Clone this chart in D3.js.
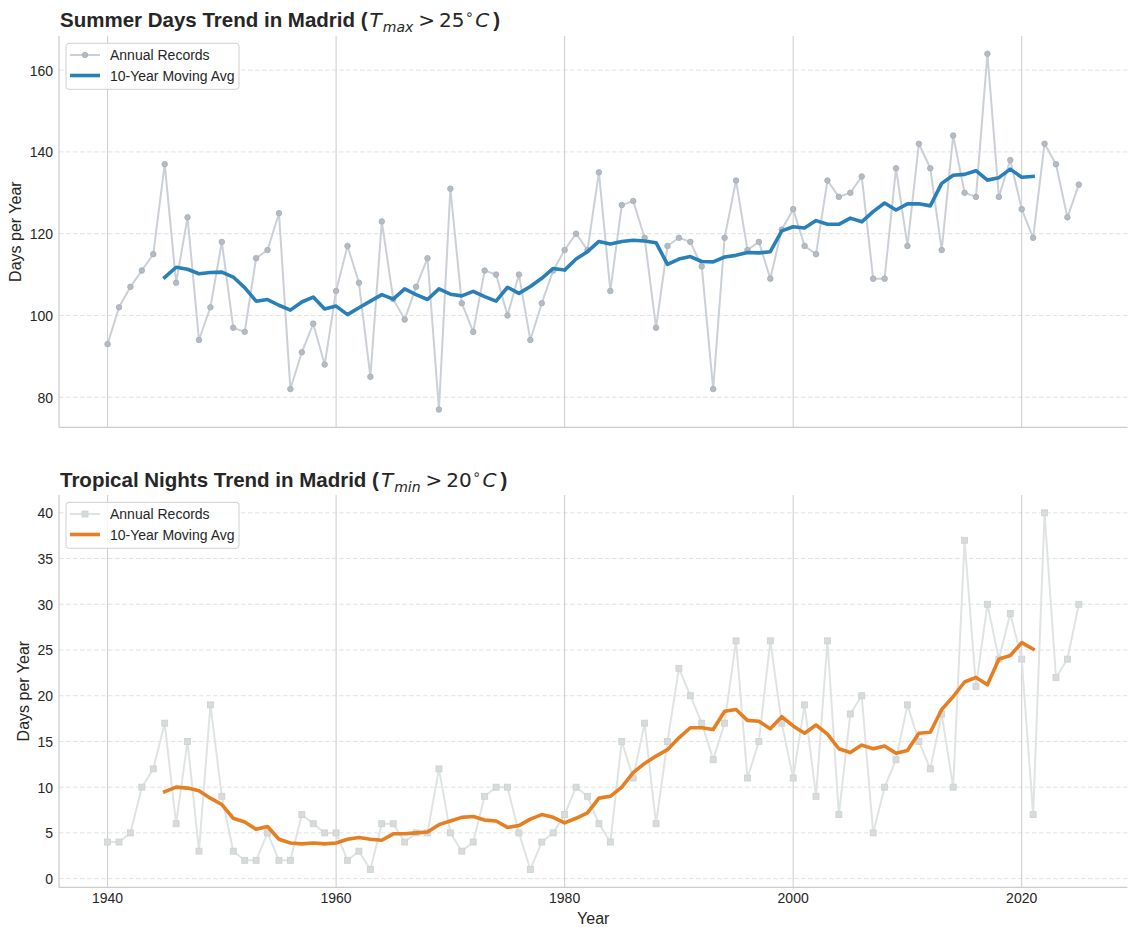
<!DOCTYPE html>
<html>
<head>
<meta charset="utf-8">
<script src="https://cdn.jsdelivr.net/npm/d3@7"></script>
<style>
  body { margin: 0; background: #fff; }
  text { font-family: "Liberation Sans", Arial, sans-serif; fill: #262626; }
</style>
</head>
<body>
<svg id="chart"></svg>
<script>
"use strict";

// =================== DATASET ===================
const years = d3.range(1940, 2026);

const summerDays = [
  93, 102, 107, 111, 115, 137, 108, 124, 94, 102,
  118, 97, 96, 114, 116, 125, 82, 91, 98, 88,
  106, 117, 108, 85, 123, 104, 99, 107, 114, 77,
  131, 103, 96, 111, 110, 100, 110, 94, 103, 111,
  116, 120, 116, 135, 106, 127, 128, 119, 97, 117,
  119, 118, 112, 82, 119, 133, 116, 118, 109, 121,
  126, 117, 115, 133, 129, 130, 134, 109, 109, 136,
  117, 142, 136, 116, 144, 130, 129, 164, 129, 138,
  126, 119, 142, 137, 124, 132
];

const tropicalNights = [
  4, 4, 5, 10, 12, 17, 6, 15, 3, 19,
  9, 3, 2, 2, 5, 2, 2, 7, 6, 5,
  5, 2, 3, 1, 6, 6, 4, 5, 5, 12,
  5, 3, 4, 9, 10, 10, 5, 1, 4, 5,
  7, 10, 9, 6, 4, 15, 11, 17, 6, 15,
  23, 20, 17, 13, 17, 26, 11, 15, 26, 17,
  11, 19, 9, 26, 7, 18, 20, 5, 10, 13,
  19, 15, 12, 18, 10, 37, 21, 30, 24, 29,
  24, 7, 40, 22, 24, 30
];

// moving average values, 1945 - 2021
const avgYears = d3.range(1945, 2022);

const summerAvg = [
  109.3, 111.8, 111.3, 110.2, 110.5, 110.6, 109.4, 106.8, 103.5, 103.9,
  102.5, 101.3, 103.3, 104.5, 101.6, 102.3, 100.2, 101.9, 103.5, 105.1,
  104.0, 106.5, 105.1, 103.9, 106.5, 105.2, 104.8, 105.9, 104.6, 103.5,
  106.9, 105.4, 107.1, 109.1, 111.5, 111.1, 113.8, 115.6, 118.1, 117.5,
  118.1, 118.4, 118.2, 117.8, 112.5, 113.8, 114.4, 113.2, 113.1, 114.3,
  114.7, 115.4, 115.3, 115.6, 120.7, 121.7, 121.4, 123.2, 122.3, 122.3,
  123.8, 122.9, 125.4, 127.5, 125.8, 127.3, 127.3, 126.8, 132.3, 134.3,
  134.5, 135.4, 133.1, 133.7, 135.8, 133.8, 134.0
];

const tropicalAvg = [
  9.5, 10.0, 9.9, 9.6, 8.8, 8.1, 6.6, 6.2, 5.4, 5.7,
  4.3, 3.9, 3.8, 3.9, 3.8, 3.9, 4.3, 4.5, 4.3, 4.2,
  4.9, 4.9, 5.0, 5.1, 5.9, 6.3, 6.7, 6.8, 6.4, 6.3,
  5.6, 5.8, 6.5, 7.0, 6.7, 6.1, 6.6, 7.2, 8.8, 9.0,
  10.0, 11.6, 12.6, 13.4, 14.1, 15.4, 16.5, 16.5, 16.3, 18.3,
  18.5, 17.3, 17.2, 16.4, 17.7, 16.7, 15.9, 16.8, 15.8, 14.2,
  13.8, 14.6, 14.2, 14.5, 13.7, 14.0, 15.9, 16.0, 18.5, 19.9,
  21.5, 22.0, 21.2, 24.0, 24.4, 25.8, 25.1
];

const xTicks = [1940, 1960, 1980, 2000, 2020];
const summerTicks = [80, 100, 120, 140, 160];
const tropicalTicks = [0, 5, 10, 15, 20, 25, 30, 35, 40];
const legendLabels = ["Annual Records", "10-Year Moving Avg"];

// =================== CHART SETUP ===================
const svgWidth = 1136;
const svgHeight = 936;

const svg = d3.select("#chart")
  .attr("width", svgWidth)
  .attr("height", svgHeight);

const xScale = d3.scaleLinear().domain([1935.75, 2029.25]).range([59, 1127.4]);

const panels = [
  {
    top: 36, bottom: 427.3,
    domain: [72.65, 168.35],
    ticks: summerTicks,
    values: summerDays,
    avg: summerAvg,
    avgColor: "#2980b9",
    lineColor: "#cbd0d6",
    markFill: "#b5bbc3",
    markStroke: "#a6adb6",
    marker: "circle",
    titleMain: "Summer Days Trend in Madrid (",
    sub: "max", num: "25",
    titleY: 27.3,
    yLabelX: 15,
    showX: false
  },
  {
    top: 495, bottom: 887.3,
    domain: [-0.95, 41.95],
    ticks: tropicalTicks,
    values: tropicalNights,
    avg: tropicalAvg,
    avgColor: "#e67e22",
    lineColor: "#e0e3e4",
    markFill: "#d7dbdc",
    markStroke: "#ccd1d2",
    marker: "square",
    titleMain: "Tropical Nights Trend in Madrid (",
    sub: "min", num: "20",
    titleY: 487,
    yLabelX: 23.5,
    showX: true
  }
];

panels.forEach(p => {
  const yScale = d3.scaleLinear().domain(p.domain).range([p.bottom, p.top]);
  const g = svg.append("g");
  const left = xScale.range()[0];
  const right = xScale.range()[1];

  // =================== GRID ===================
  g.selectAll("line.hgrid")
    .data(p.ticks)
    .enter()
    .append("line")
    .attr("x1", left).attr("x2", right)
    .attr("y1", d => yScale(d)).attr("y2", d => yScale(d))
    .attr("stroke", "#dedede")
    .attr("stroke-width", 0.9)
    .attr("stroke-dasharray", "4.5,2.5");

  g.selectAll("line.vgrid")
    .data(xTicks)
    .enter()
    .append("line")
    .attr("x1", d => xScale(d)).attr("x2", d => xScale(d))
    .attr("y1", p.top).attr("y2", p.bottom)
    .attr("stroke", "#cccccc")
    .attr("stroke-width", 1);

  // spines (left + bottom only)
  g.append("line")
    .attr("x1", left).attr("x2", left)
    .attr("y1", p.top).attr("y2", p.bottom)
    .attr("stroke", "#cccccc").attr("stroke-width", 1.25);
  g.append("line")
    .attr("x1", left).attr("x2", right)
    .attr("y1", p.bottom).attr("y2", p.bottom)
    .attr("stroke", "#cccccc").attr("stroke-width", 1.25);

  // =================== TICK LABELS ===================
  g.selectAll("text.ytick")
    .data(p.ticks)
    .enter()
    .append("text")
    .attr("x", 53)
    .attr("y", d => yScale(d) + 5.5)
    .attr("text-anchor", "end")
    .style("font-size", "14px")
    .text(d => d);

  if (p.showX) {
    g.selectAll("text.xtick")
      .data(xTicks)
      .enter()
      .append("text")
      .attr("x", d => xScale(d))
      .attr("y", p.bottom + 16)
      .attr("text-anchor", "middle")
      .style("font-size", "14px")
      .text(d => d);

    g.append("text")
      .attr("x", (left + right) / 2)
      .attr("y", p.bottom + 37)
      .attr("text-anchor", "middle")
      .style("font-size", "16px")
      .text("Year");
  }

  g.append("text")
    .attr("transform", `translate(${p.yLabelX},${(p.top + p.bottom) / 2}) rotate(-90)`)
    .attr("dy", "0.35em")
    .attr("text-anchor", "middle")
    .style("font-size", "16px")
    .text("Days per Year");

  // =================== ANNUAL RECORDS ===================
  const pts = years.map((y, i) => [y, p.values[i]]);
  const line = d3.line().x(d => xScale(d[0])).y(d => yScale(d[1]));

  g.append("path")
    .attr("d", line(pts))
    .attr("fill", "none")
    .attr("stroke", p.lineColor)
    .attr("stroke-width", 2)
    .attr("stroke-linejoin", "round");

  if (p.marker === "circle") {
    g.selectAll("circle.rec")
      .data(pts)
      .enter()
      .append("circle")
      .attr("cx", d => xScale(d[0]))
      .attr("cy", d => yScale(d[1]))
      .attr("r", 2.8)
      .attr("fill", p.markFill)
      .attr("stroke", p.markStroke)
      .attr("stroke-width", 0.8);
  } else {
    g.selectAll("rect.rec")
      .data(pts)
      .enter()
      .append("rect")
      .attr("x", d => xScale(d[0]) - 3)
      .attr("y", d => yScale(d[1]) - 3)
      .attr("width", 6).attr("height", 6)
      .attr("fill", p.markFill)
      .attr("stroke", p.markStroke)
      .attr("stroke-width", 0.8);
  }

  // =================== MOVING AVERAGE ===================
  const avgPts = avgYears.map((y, i) => [y, p.avg[i]]);
  g.append("path")
    .attr("d", line(avgPts))
    .attr("fill", "none")
    .attr("stroke", p.avgColor)
    .attr("stroke-width", 3.6)
    .attr("stroke-linejoin", "round")
    .attr("stroke-linecap", "square");

  // =================== TITLE ===================
  // bold text + mathtext-like part (T_sub > NN°C)
  const title = g.append("text")
    .attr("x", 60)
    .attr("y", p.titleY)
    .style("font-size", "20.5px");
  title.append("tspan").style("font-weight", "700").text(p.titleMain);
  title.append("tspan")
    .style("font-family", "'DejaVu Sans'").style("font-style", "italic")
    .style("font-size", "20px")
    .attr("dx", 2).text("T");
  title.append("tspan")
    .style("font-family", "'DejaVu Sans'").style("font-style", "italic")
    .style("font-size", "14px").attr("dy", 4.5).attr("dx", 1).text(p.sub);
  title.append("tspan")
    .style("font-family", "'DejaVu Sans'")
    .style("font-size", "20px")
    .attr("dy", -4.5).attr("dx", 5).text(">");
  title.append("tspan")
    .style("font-family", "'DejaVu Sans'")
    .style("font-size", "20px")
    .attr("dx", 4).text(p.num);
  title.append("tspan")
    .style("font-family", "'DejaVu Sans'")
    .style("font-size", "14px").attr("dy", -8).attr("dx", 0.5).text("∘");
  title.append("tspan")
    .style("font-family", "'DejaVu Sans'").style("font-style", "italic")
    .style("font-size", "20px")
    .attr("dy", 8).attr("dx", 1.5).text("C");
  title.append("tspan").style("font-weight", "700").attr("dx", 4).text(")");

  // =================== LEGEND ===================
  const lx = 66;
  const ly = p.top + 7.3;
  g.append("rect")
    .attr("x", lx).attr("y", ly)
    .attr("width", 173).attr("height", 46)
    .attr("rx", 3)
    .attr("fill", "#ffffff").attr("fill-opacity", 0.85)
    .attr("stroke", "#d0d0d0").attr("stroke-width", 1);

  const row1 = ly + 11.7;
  const row2 = ly + 32.2;
  g.append("line")
    .attr("x1", lx + 4).attr("x2", lx + 34)
    .attr("y1", row1).attr("y2", row1)
    .attr("stroke", p.lineColor).attr("stroke-width", 2);
  if (p.marker === "circle") {
    g.append("circle")
      .attr("cx", lx + 19).attr("cy", row1).attr("r", 2.8)
      .attr("fill", p.markFill).attr("stroke", p.markStroke).attr("stroke-width", 0.8);
  } else {
    g.append("rect")
      .attr("x", lx + 16).attr("y", row1 - 3).attr("width", 6).attr("height", 6)
      .attr("fill", p.markFill).attr("stroke", p.markStroke).attr("stroke-width", 0.8);
  }
  g.append("line")
    .attr("x1", lx + 4).attr("x2", lx + 34)
    .attr("y1", row2).attr("y2", row2)
    .attr("stroke", p.avgColor).attr("stroke-width", 3.6);

  [row1, row2].forEach((ry, i) => {
    g.append("text")
      .attr("x", lx + 44)
      .attr("y", ry + 5)
      .style("font-size", "14px")
      .text(legendLabels[i]);
  });
});
</script>
</body>
</html>
